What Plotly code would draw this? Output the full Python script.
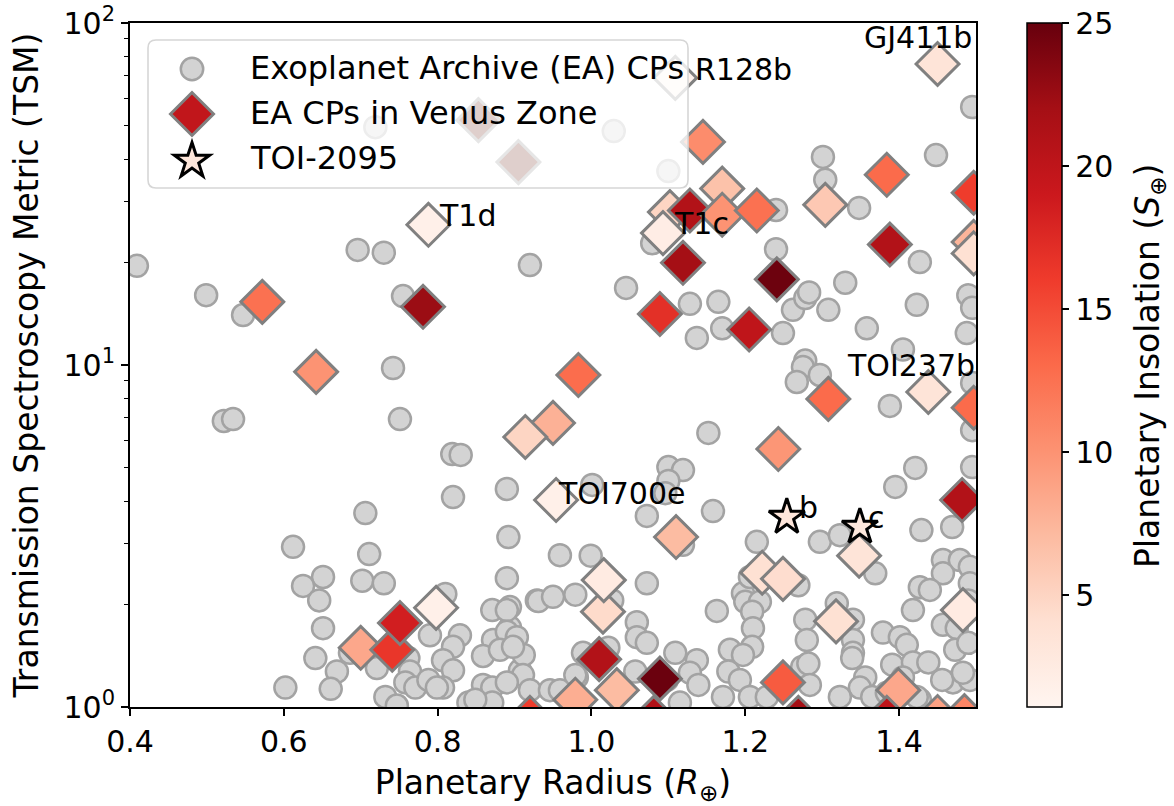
import math
import plotly.graph_objects as go

# ---------------- data ----------------
# Exoplanet Archive confirmed planets (grey circles)
ea_radius = [
    0.409, 0.499, 0.547, 0.522, 0.534, 0.696, 0.730, 0.755, 0.920, 0.719, 1.029, 1.100,
    1.301, 1.304, 1.448, 1.240, 1.348, 1.079, 1.240, 1.427, 1.045, 1.128, 1.165, 1.137,
    1.170, 1.249, 1.262, 1.278, 1.283, 1.308, 1.330, 1.358, 1.423, 1.488, 1.490, 1.495,
    1.495, 1.278, 1.405, 1.275, 1.267, 1.297, 1.388, 1.495, 1.495, 1.495, 0.742, 0.751,
    0.819, 0.830, 0.820, 0.890, 0.892, 0.890, 0.929, 0.706, 0.711, 0.612, 1.152, 1.100,
    1.119, 1.100, 1.096, 1.001, 1.072, 1.158, 1.119, 1.215, 1.421, 1.395, 1.297, 1.323,
    1.369, 1.429, 1.469, 1.457, 1.479, 1.492, 1.457, 1.427, 1.440, 1.492, 1.418, 1.457,
    1.475, 1.473, 1.470, 1.492, 1.456, 1.427, 1.490, 1.490,
    0.959, 0.999, 0.931, 0.950, 0.979, 1.027, 1.072, 1.163, 1.059, 1.059, 1.072, 0.894,
    0.894, 0.989, 1.022, 1.109, 1.137, 1.128, 1.139, 0.981, 1.057, 1.115, 1.180, 1.178,
    1.193, 1.171, 1.197, 1.206, 0.907, 1.098, 1.200, 1.219, 1.209, 1.210, 1.209, 1.197,
    1.206, 1.228, 1.269, 1.278, 1.280, 1.319, 1.340, 1.340, 1.340, 1.339, 1.274, 1.282,
    1.284, 1.379, 1.401, 1.410, 1.391, 1.418, 1.438, 1.356, 1.349, 1.405, 1.365, 1.323,
    1.384, 1.423, 1.483,
    0.602, 0.651, 0.625, 0.646, 0.702, 0.730, 0.651, 0.641, 0.669, 0.661, 0.686, 0.721,
    0.732, 0.747, 0.762, 0.764, 0.758, 0.771, 0.790, 0.810, 0.829, 0.820, 0.807, 0.820,
    0.788, 0.807, 0.799, 0.840, 0.871, 0.890, 0.872, 0.890, 0.903, 0.859, 0.881, 0.912,
    0.911, 0.859, 0.871, 0.890, 0.920, 0.871, 0.946, 0.849, 0.898, 0.959, 0.979,
]
ea_tsm = [
    19.5, 16.0, 14.0, 6.86, 6.95, 21.7, 21.3, 15.9, 19.6, 49.6, 48.3, 36.9,
    40.6, 34.8, 41.1, 28.4, 28.8, 22.7, 21.8, 20.0, 16.8, 15.1, 15.3, 12.0,
    12.8, 12.4, 14.5, 15.7, 16.3, 14.5, 17.4, 12.8, 15.0, 12.4, 16.0, 14.7,
    56.8, 10.3, 11.1, 9.87, 8.92, 9.35, 7.59, 8.86, 6.45, 5.03, 9.80, 6.95,
    5.49, 5.46, 4.11, 4.34, 3.14, 2.38, 2.05, 3.69, 2.80, 2.94, 6.33, 5.03,
    4.93, 4.58, 4.22, 4.46, 3.62, 3.74, 2.98, 3.04, 5.00, 4.40, 3.04, 3.18,
    2.46, 3.29, 3.36, 2.69, 2.69, 2.57, 2.46, 2.24, 2.20, 2.30, 1.92, 1.74,
    1.70, 1.47, 1.18, 1.20, 1.20, 1.05, 2.05, 1.54,
    2.78, 2.77, 2.04, 2.10, 2.13, 2.05, 2.30, 1.91, 1.77, 1.60, 1.54, 1.96,
    1.71, 1.44, 1.49, 1.44, 1.37, 1.26, 1.16, 1.22, 1.27, 1.03, 1.47, 1.27,
    1.20, 1.07, 2.15, 2.40, 1.28, 1.20, 2.03, 2.03, 1.90, 1.70, 1.50, 1.42,
    1.07, 1.07, 2.27, 1.80, 1.57, 2.01, 1.80, 1.57, 1.44, 1.39, 1.31, 1.34,
    1.16, 1.65, 1.60, 1.52, 1.33, 1.35, 1.35, 1.22, 1.14, 1.22, 1.07, 1.07,
    1.10, 1.07, 1.26,
    1.14, 2.40, 2.26, 2.05, 2.34, 2.30, 1.70, 1.39, 1.27, 1.13, 1.44, 1.30,
    1.07, 1.01, 1.39, 1.27, 1.18, 1.14, 1.62, 2.14, 1.62, 1.50, 1.37, 1.28,
    1.20, 1.14, 1.14, 1.03, 1.92, 1.92, 1.57, 1.66, 1.60, 1.41, 1.47, 1.42,
    1.24, 1.16, 1.14, 1.18, 1.12, 1.03, 1.12, 1.05, 1.50, 1.12, 1.24,
]

# EA confirmed planets in the Venus Zone (diamonds, coloured by insolation)
vz_radius = [
    1.450, 1.109, 1.145, 0.788, 1.170, 1.102, 1.093, 1.119, 1.128, 1.170, 1.215,
    1.241, 1.089, 1.205, 1.304, 1.384, 1.388, 1.497, 1.497, 1.497, 0.572, 0.781,
    0.642, 0.983, 0.950, 0.914, 0.954, 1.308, 1.438, 1.497, 1.243, 1.482, 1.110,
    1.348, 1.015, 1.016, 1.222, 1.249, 1.318, 1.483, 1.010, 1.033, 1.089, 1.249,
    1.399, 0.979, 0.700, 0.741, 0.751, 0.798, 0.920, 1.081, 1.269, 1.384, 1.450,
    1.485,
]
vz_tsm = [
    75.9, 69.1, 44.9, 25.7, 32.8, 28.0, 24.3, 19.9, 28.3, 27.5, 28.3,
    17.8, 14.1, 12.7, 29.4, 36.0, 22.5, 31.9, 22.9, 21.2, 15.3, 14.8,
    9.55, 9.35, 6.77, 6.16, 4.03, 7.96, 8.34, 7.50, 5.68, 4.03, 3.14,
    2.77, 1.90, 2.35, 2.47, 2.37, 1.78, 1.92, 1.38, 1.12, 1.21, 1.18,
    1.12, 1.05, 1.49, 1.47, 1.76, 1.95, 0.93, 0.93, 0.93, 0.93, 0.935,
    0.94,
]
vz_insol = [
    3.5, 1.5, 10.5, 1.8, 6.5, 5.0, 2.2, 22.0, 21.0, 10.0, 12.5,
    24.7, 17.0, 20.0, 6.0, 13.0, 21.0, 16.0, 7.5, 4.0, 12.5, 22.5,
    10.0, 12.8, 7.8, 5.0, 1.8, 13.0, 3.5, 13.0, 9.8, 21.0, 7.0,
    3.5, 4.5, 2.5, 4.0, 4.3, 4.0, 2.5, 21.0, 7.0, 24.8, 14.0,
    8.5, 8.0, 8.5, 16.5, 18.5, 1.8, 16.0, 21.0, 22.0, 20.0, 9.0,
    11.0,
]

# two tinted diamonds seen through the legend box
faded_radius = [0.853, 0.905]
faded_tsm = [52.0, 39.2]

# TOI-2095 planets
toi_names = ["b", "c"]
toi_radius = [1.254, 1.349]
toi_tsm = [3.59, 3.36]
toi_insol = [3.2, 3.0]

# named planets (text labels)
label_names = ["GJ411b", "R128b", "T1d", "T1c", "TOI237b", "TOI700e"]
label_x = [1.352, 1.132, 0.799, 1.105, 1.330, 0.954]
label_y = [90.4, 72.9, 27.3, 25.9, 10.0, 4.22]
toi_label_x = [1.267, 1.357]
toi_label_y = [3.84, 3.57]

legend_labels = ["Exoplanet Archive (EA) CPs", "EA CPs in Venus Zone", "TOI-2095"]

cbar_ticks = [5, 10, 15, 20, 25]
x_ticks = [0.4, 0.6, 0.8, 1.0, 1.2, 1.4]
y_ticks = [1, 10, 100]
y_ticktext = ["10<sup>0</sup>", "10<sup>1</sup>", "10<sup>2</sup>"]
y_minor = [2, 3, 4, 5, 6, 7, 8, 9, 20, 30, 40, 50, 60, 70, 80, 90]

# ---------------- style ----------------
REDS = [[0.0, "#fff5f0"], [0.125, "#fee0d2"], [0.25, "#fcbba1"], [0.375, "#fc9272"],
        [0.5, "#fb6a4a"], [0.625, "#ef3b2c"], [0.75, "#cb181d"], [0.875, "#a50f15"],
        [1.0, "#67000d"]]
FONT = "DejaVu Sans"
FS = 30        # tick labels, point labels
FS_LEG = 32    # legend
FS_TTL = 33    # axis / colorbar titles
W, H = 1174, 806
L, R, T, B = 130, 198, 23, 99
PW, PH = W - L - R, H - T - B


def px(xp):
    # page pixel x -> paper fraction
    return (xp - L) / PW


def py(yp):
    # page pixel y -> paper fraction
    return (H - B - yp) / PH


fig = go.Figure()
fig.add_trace(go.Scatter(
    x=ea_radius, y=ea_tsm, mode="markers", name=legend_labels[0], showlegend=False,
    marker=dict(symbol="circle", size=22, color="#d3d3d3",
                line=dict(color="#a3a3a3", width=2.5))))
fig.add_trace(go.Scatter(
    x=faded_radius, y=faded_tsm, mode="markers", showlegend=False, hoverinfo="skip",
    marker=dict(symbol="diamond", size=33, color="rgb(95,15,0)",
                line=dict(color="#808080", width=3))))
fig.add_trace(go.Scatter(
    x=vz_radius, y=vz_tsm, mode="markers", name=legend_labels[1], showlegend=False,
    marker=dict(symbol="diamond", size=33, color=vz_insol, coloraxis="coloraxis",
                line=dict(color="#808080", width=3))))
fig.add_trace(go.Scatter(
    x=toi_radius, y=toi_tsm, mode="markers", name=legend_labels[2], showlegend=False,
    marker=dict(symbol="star", size=27, color=toi_insol, coloraxis="coloraxis",
                line=dict(color="black", width=3))))

# planet labels
for name, lx, ly in zip(label_names + toi_names, label_x + toi_label_x, label_y + toi_label_y):
    fig.add_annotation(x=lx, y=math.log10(ly), xref="x", yref="y", text=name,
                       showarrow=False, xanchor="left", yanchor="middle",
                       font=dict(family=FONT, size=FS, color="black"))

# ---------------- hand-built legend (matplotlib look) ----------------
shapes = []
bx0, bx1, by0, by1, rr = 148, 688, 40, 188, 8
box = (f"M {px(bx0+rr)},{py(by0)} L {px(bx1-rr)},{py(by0)} Q {px(bx1)},{py(by0)} {px(bx1)},{py(by0+rr)} "
       f"L {px(bx1)},{py(by1-rr)} Q {px(bx1)},{py(by1)} {px(bx1-rr)},{py(by1)} "
       f"L {px(bx0+rr)},{py(by1)} Q {px(bx0)},{py(by1)} {px(bx0)},{py(by1-rr)} "
       f"L {px(bx0)},{py(by0+rr)} Q {px(bx0)},{py(by0)} {px(bx0+rr)},{py(by0)} Z")
shapes.append(dict(type="path", xref="paper", yref="paper", path=box, layer="above",
                   fillcolor="rgba(255,255,255,0.8)", line=dict(color="#d6d6d6", width=1.6)))
cx = 192
row_y = [69, 114, 160]
cr = 11.2
shapes.append(dict(type="circle", xref="paper", yref="paper", layer="above",
                   x0=px(cx - cr), x1=px(cx + cr), y0=py(row_y[0] + cr), y1=py(row_y[0] - cr),
                   fillcolor="#d3d3d3", line=dict(color="#a3a3a3", width=2.5)))
dr = 21.5
dpath = (f"M {px(cx-dr)},{py(row_y[1])} L {px(cx)},{py(row_y[1]-dr)} L {px(cx+dr)},{py(row_y[1])} "
         f"L {px(cx)},{py(row_y[1]+dr)} Z")
shapes.append(dict(type="path", xref="paper", yref="paper", layer="above", path=dpath,
                   fillcolor="#c1161b", line=dict(color="#808080", width=3)))
sR, sr = 18.5, 18.5 * 0.382
pts = []
for k in range(10):
    ang = math.radians(-90 + 36 * k)
    rad = sR if k % 2 == 0 else sr
    pts.append((cx + rad * math.cos(ang), row_y[2] + 1 + rad * math.sin(ang)))
spath = "M " + " L ".join(f"{px(a)},{py(b)}" for a, b in pts) + " Z"
shapes.append(dict(type="path", xref="paper", yref="paper", layer="above", path=spath,
                   fillcolor="#fee6da", line=dict(color="black", width=3)))
for txt, ry in zip(legend_labels, [68, 113, 158]):
    fig.add_annotation(x=px(248), y=py(ry), xref="paper", yref="paper", text=txt,
                       showarrow=False, xanchor="left", yanchor="middle",
                       font=dict(family=FONT, size=FS_LEG, color="black"))

# colorbar title (rotated, placed like matplotlib's)
fig.add_annotation(x=px(1149), y=py(366), xref="paper", yref="paper",
                   text="Planetary Insolation (<i>S</i><sub>⊕</sub>)", textangle=-90,
                   showarrow=False, xanchor="center", yanchor="middle",
                   font=dict(family=FONT, size=FS_TTL, color="black"))

fig.update_layout(
    width=W, height=H, autosize=False,
    margin=dict(l=L, r=R, t=T, b=B, autoexpand=False),
    plot_bgcolor="white", paper_bgcolor="white",
    font=dict(family=FONT, size=FS, color="black"),
    showlegend=False, shapes=shapes,
    coloraxis=dict(
        colorscale=REDS, cmin=1.1, cmax=25,
        colorbar=dict(
            x=px(1027), xanchor="left", xpad=0, ypad=0, y=0, yanchor="bottom",
            len=1, lenmode="fraction", thickness=35, thicknessmode="pixels",
            outlinewidth=1.5, outlinecolor="black",
            ticks="outside", ticklen=7, tickwidth=1.5, tickcolor="black",
            tickvals=cbar_ticks, ticklabeloverflow="allow",
            tickfont=dict(family=FONT, size=FS, color="black"),
        ),
    ),
    xaxis=dict(
        range=[0.4, 1.5], tickmode="array", tickvals=x_ticks,
        ticktext=[f"{v:.1f}" for v in x_ticks], ticklabeloverflow="allow",
        ticks="outside", ticklen=7, tickwidth=1.6, tickcolor="black",
        showline=True, linewidth=2, linecolor="black", mirror=True,
        showgrid=False, zeroline=False,
        tickfont=dict(family=FONT, size=FS, color="black"),
        title=dict(text="Planetary Radius (<i>R</i><sub>⊕</sub>)", standoff=15,
                   font=dict(family=FONT, size=FS_TTL, color="black")),
    ),
    yaxis=dict(
        type="log", range=[0, 2], tickmode="array", tickvals=y_ticks, ticktext=y_ticktext,
        ticklabeloverflow="allow",
        ticks="outside", ticklen=7, tickwidth=1.6, tickcolor="black",
        minor=dict(tickmode="array", tickvals=y_minor, ticks="outside", ticklen=4,
                   tickwidth=1.2, tickcolor="black", showgrid=False),
        showline=True, linewidth=2, linecolor="black", mirror=True,
        showgrid=False, zeroline=False,
        tickfont=dict(family=FONT, size=FS, color="black"),
        title=dict(text="Transmission Spectroscopy Metric (TSM)", standoff=15,
                   font=dict(family=FONT, size=FS_TTL, color="black")),
    ),
)

# remove the browser's default page margin so the figure sits at the window's corner
fig.write_html("out.html", config={"displayModeBar": False},
               post_script="document.body.style.margin='0';")
